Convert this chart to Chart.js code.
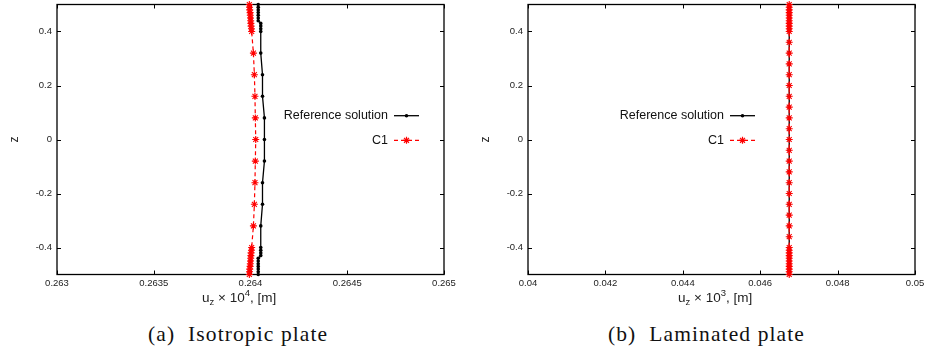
<!DOCTYPE html>
<html>
<head>
<meta charset="utf-8">
<script src="https://cdn.jsdelivr.net/npm/chart.js@4.4.1/dist/chart.umd.min.js"></script>
<style>
  body { margin: 0; background: #fff; width: 929px; height: 358px; position: relative; overflow: hidden; font-family: "Liberation Sans", Arial, sans-serif; }
  .plot { position: absolute; top: 0; width: 465px; height: 300px; }
  .xtitle { position: absolute; top: 291px; font-size: 13.5px; line-height: 13px; color: #222; white-space: nowrap; }
  .xtitle sub, .xtitle sup { font-size: 9.5px; line-height: 0; position: relative; vertical-align: baseline; }
  .xtitle sub { top: 3px; }
  .xtitle sup { top: -6px; }
  .cap { position: absolute; top: 324px; font-family: "Liberation Serif", serif; font-size: 21.5px; line-height: 21.5px; letter-spacing: 1.1px; color: #111; white-space: nowrap; }
</style>
</head>
<body>
<div class="plot" style="left:0"><canvas id="chart_a"></canvas></div>
<div class="plot" style="left:471px"><canvas id="chart_b"></canvas></div>
<div class="xtitle" style="left:202px">u<sub>z</sub> × 10<sup>4</sup>, [m]</div>
<div class="xtitle" style="left:678px">u<sub>z</sub> × 10<sup>3</sup>, [m]</div>
<div class="cap" style="left:148px">(a)&nbsp;&nbsp;Isotropic plate</div>
<div class="cap" style="left:608px">(b)&nbsp;&nbsp;Laminated plate</div>
<script>
// tick labels
const Y_TICKS = [-0.4, -0.2, 0, 0.2, 0.4];
const X_TICKS_A = [0.263, 0.2635, 0.264, 0.2645, 0.265];
const X_TICKS_B = [0.04, 0.042, 0.044, 0.046, 0.048, 0.05];

const SERIES_NAMES = ["Reference solution", "C1"];

// (a) isotropic plate
const Z_A = [0.5, 0.49, 0.48, 0.47, 0.46, 0.45, 0.44, 0.43, 0.42, 0.41, 0.4,
  0.32, 0.24, 0.16, 0.08, 0, -0.08, -0.16, -0.24, -0.32,
  -0.4, -0.41, -0.42, -0.43, -0.44, -0.45, -0.46, -0.47, -0.48, -0.49, -0.5];
const REF_A = [0.26404, 0.26404, 0.26404, 0.26404, 0.26404, 0.26404, 0.26404, 0.264053, 0.264053, 0.264053, 0.264053,
  0.264053, 0.264062, 0.264062, 0.264072, 0.264072, 0.264072, 0.264062, 0.264062, 0.264053,
  0.264053, 0.264053, 0.264053, 0.264053, 0.26404, 0.26404, 0.26404, 0.26404, 0.26404, 0.26404, 0.26404];
const C1_A = [0.263994, 0.263995, 0.263996, 0.263998, 0.263999, 0.264, 0.264001, 0.264002, 0.264003, 0.264005, 0.264006,
  0.264015, 0.26402, 0.264023, 0.264025, 0.264027, 0.264025, 0.264023, 0.26402, 0.264015,
  0.264006, 0.264005, 0.264003, 0.264002, 0.264001, 0.264, 0.263999, 0.263998, 0.263996, 0.263995, 0.263994];

// (b) laminated plate
const Z_B = [0.5, 0.49, 0.48, 0.47, 0.46, 0.45, 0.44, 0.43, 0.42, 0.41, 0.4,
  0.36, 0.32, 0.28, 0.24, 0.2, 0.16, 0.12, 0.08, 0.04, 0, -0.04, -0.08, -0.12, -0.16, -0.2, -0.24, -0.28, -0.32, -0.36,
  -0.4, -0.41, -0.42, -0.43, -0.44, -0.45, -0.46, -0.47, -0.48, -0.49, -0.5];
const REF_B = [0.04675, 0.04675, 0.04675, 0.04675, 0.04675, 0.04675, 0.04675, 0.04675, 0.04675, 0.04675, 0.04675,
  0.04675, 0.04675, 0.04675, 0.04675, 0.04675, 0.04675, 0.04675, 0.04675, 0.04675, 0.04675,
  0.04675, 0.04675, 0.04675, 0.04675, 0.04675, 0.04675, 0.04675, 0.04675, 0.04675,
  0.04675, 0.04675, 0.04675, 0.04675, 0.04675, 0.04675, 0.04675, 0.04675, 0.04675, 0.04675, 0.04675];
const C1_B = [0.04675, 0.04675, 0.04675, 0.04675, 0.04675, 0.04675, 0.04675, 0.04675, 0.04675, 0.04675, 0.04675,
  0.04675, 0.04675, 0.04675, 0.04675, 0.04675, 0.04675, 0.04675, 0.04675, 0.04675, 0.04675,
  0.04675, 0.04675, 0.04675, 0.04675, 0.04675, 0.04675, 0.04675, 0.04675, 0.04675,
  0.04675, 0.04675, 0.04675, 0.04675, 0.04675, 0.04675, 0.04675, 0.04675, 0.04675, 0.04675, 0.04675];

const TICK_FONT = { family: "'Liberation Sans', Arial, sans-serif", size: 9.5, lineHeight: 1 };
const INK = "#222";

// gnuplot-style frame + inward ticks on all four sides
const framePlugin = {
  id: "frame",
  beforeDatasetsDraw(chart) {
    const { ctx, chartArea: a, scales } = chart;
    ctx.save();
    ctx.strokeStyle = "#000";
    ctx.lineWidth = 1.3;
    ctx.strokeRect(a.left, a.top, a.right - a.left, a.bottom - a.top);
    ctx.lineWidth = 1;
    ctx.beginPath();
    scales.x.ticks.forEach((t) => {
      const px = Math.round(scales.x.getPixelForValue(t.value)) + 0.5;
      ctx.moveTo(px, a.bottom); ctx.lineTo(px, a.bottom - 4);
      ctx.moveTo(px, a.top); ctx.lineTo(px, a.top + 4);
    });
    scales.y.ticks.forEach((t) => {
      const py = Math.round(scales.y.getPixelForValue(t.value)) + 0.5;
      ctx.moveTo(a.left, py); ctx.lineTo(a.left + 4, py);
      ctx.moveTo(a.right, py); ctx.lineTo(a.right - 4, py);
    });
    ctx.stroke();
    ctx.restore();
  },
};

// key: text right aligned, sample line on its right
const keyPlugin = {
  id: "key",
  afterDraw(chart, args, opts) {
    const { ctx } = chart;
    const x = opts.textRight;
    ctx.save();
    chart.data.datasets.slice().sort((a, b) => a.keyRow - b.keyRow).forEach((ds, i) => {
      const y = opts.top + i * opts.rowGap;
      ctx.font = "12.5px 'Liberation Sans', Arial, sans-serif";
      ctx.fillStyle = "#111";
      ctx.textAlign = "right";
      ctx.textBaseline = "middle";
      ctx.fillText(ds.label, x, y);
      ctx.strokeStyle = ds.borderColor;
      ctx.lineWidth = ds.borderWidth;
      ctx.setLineDash(ds.borderDash || []);
      ctx.beginPath();
      ctx.moveTo(x + 6, y); ctx.lineTo(x + 31, y);
      ctx.stroke();
      ctx.setLineDash([]);
      ctx.fillStyle = ds.pointBackgroundColor;
      ctx.strokeStyle = ds.pointBorderColor;
      Chart.helpers.drawPoint(ctx, {
        pointStyle: ds.pointStyle, radius: ds.pointRadius, borderWidth: ds.pointBorderWidth, rotation: 0,
      }, x + 18.5, y);
    });
    ctx.restore();
  },
};

function makePlot(id, zs, ref, c1, xTicks, keyRight) {
  const toPts = (xs) => zs.map((z, i) => ({ x: xs[i], y: z }));
  return new Chart(document.getElementById(id), {
    type: "scatter",
    data: {
      datasets: [
        {
          label: SERIES_NAMES[1], keyRow: 1, data: toPts(c1), showLine: true, clip: false, order: 0,
          borderColor: "#ff0000", borderWidth: 1.2, borderDash: [4, 3],
          pointStyle: "star", pointRadius: 3.5, pointBorderWidth: 1.1,
          pointBorderColor: "#ff0000", pointBackgroundColor: "#ff0000",
        },
        {
          label: SERIES_NAMES[0], keyRow: 0, data: toPts(ref), showLine: true, clip: false, order: 1,
          borderColor: "#000", borderWidth: 1.3,
          pointStyle: "circle", pointRadius: 1.8, pointBorderWidth: 0,
          pointBorderColor: "#000", pointBackgroundColor: "#000",
        },
      ],
    },
    options: {
      responsive: true,
      maintainAspectRatio: false,
      animation: false,
      layout: { autoPadding: false, padding: { left: 0, right: 21, top: 4.5, bottom: 0 } },
      scales: {
        x: {
          type: "linear",
          min: xTicks[0],
          max: xTicks[xTicks.length - 1],
          afterBuildTicks: (s) => { s.ticks = xTicks.map((v) => ({ value: v })); },
          afterFit: (s) => { s.height = 25.5; },
          grid: { display: false, drawTicks: false },
          border: { display: false },
          ticks: { font: TICK_FONT, color: INK, padding: 4, maxRotation: 0, autoSkip: false, callback: (v) => String(v) },
        },
        y: {
          type: "linear",
          min: -0.5,
          max: 0.5,
          afterBuildTicks: (s) => { s.ticks = Y_TICKS.map((v) => ({ value: v })); },
          afterFit: (s) => { s.width = 57; s.paddingTop = 0; s.paddingBottom = 0; },
          grid: { display: false, drawTicks: false },
          border: { display: false },
          ticks: { font: TICK_FONT, color: INK, padding: 5, autoSkip: false, callback: (v) => String(v) },
          title: {
            display: true, text: "z", color: INK,
            font: { family: "'Liberation Sans', Arial, sans-serif", size: 12, lineHeight: 1.2 },
            padding: { top: 7, bottom: 0 },
          },
        },
      },
      plugins: {
        legend: { display: false },
        tooltip: { enabled: false },
        key: { textRight: keyRight, top: 115.7, rowGap: 24.6 },
      },
    },
    plugins: [framePlugin, keyPlugin],
  });
}

makePlot("chart_a", Z_A, REF_A, C1_A, X_TICKS_A, 388);
makePlot("chart_b", Z_B, REF_B, C1_B, X_TICKS_B, 253);
</script>
</body>
</html>
